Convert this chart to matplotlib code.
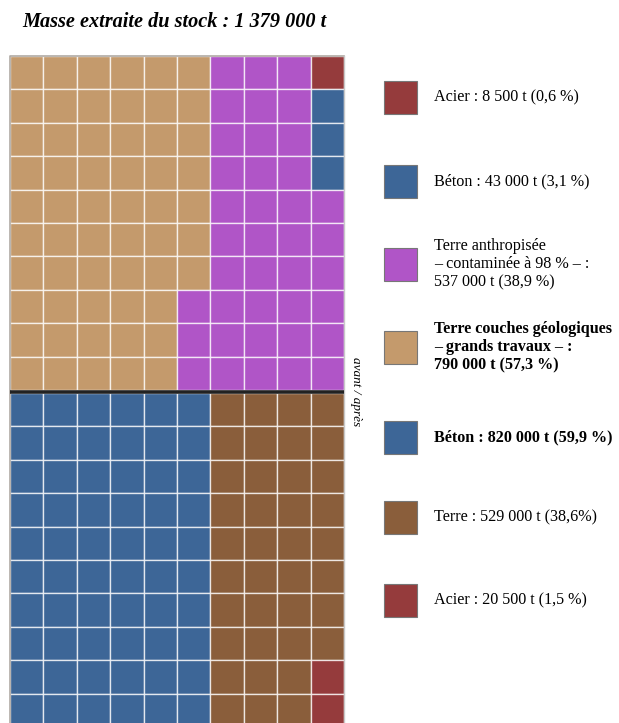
import matplotlib.pyplot as plt
from matplotlib.patches import Rectangle
import numpy as np

# categories for each waffle (counts are cells out of 100)
avant_labels = ['Terre couches géologiques\n– grands travaux – :\n790 000 t (57,3 %)',
                'Terre anthropisée\n– contaminée à 98 % – :\n537 000 t (38,9 %)',
                'Béton : 43 000 t (3,1 %)',
                'Acier : 8 500 t (0,6 %)']
avant_cells = [57, 39, 3, 1]
avant_colors = ['#C49A6C', '#B055C7', '#3D6697', '#953B3C']
avant_bold = [True, False, False, False]

apres_labels = ['Béton : 820 000 t (59,9 %)',
                'Terre : 529 000 t (38,6%)',
                'Acier : 20 500 t (1,5 %)']
apres_cells = [60, 38, 2]
apres_colors = ['#3D6697', '#8A5E3B', '#953B3C']
apres_bold = [True, False, False]

title = 'Masse extraite du stock : 1 379 000 t'

W, H = 619, 723
NCOL, NROW = 10, 10
CELL = 33.4
X0, Y0 = 10, 56
GAP = 3

serif = ['Liberation Serif', 'DejaVu Serif']


def waffle_grid(cells, flip_last=False):
    # column-major fill, top to bottom
    flat = np.repeat(np.arange(len(cells)), cells)
    grid = flat.reshape(NCOL, NROW)
    if flip_last:
        grid[-1] = grid[-1][::-1]
    return grid


def draw_waffle(ax, grid, colors, top):
    for c in range(NCOL):
        for r in range(NROW):
            x = X0 + c * CELL
            y = top + r * CELL
            ax.add_patch(Rectangle((x, y), CELL, CELL, facecolor=colors[grid[c, r]],
                                   edgecolor=(1, 1, 1, 0.75), linewidth=1.0))


fig = plt.figure(figsize=(W / 100, H / 100), dpi=100)
ax = fig.add_axes([0, 0, 1, 1])
ax.set_xlim(0, W)
ax.set_ylim(H, 0)
ax.axis('off')

top_avant = Y0
top_apres = Y0 + NROW * CELL + GAP
draw_waffle(ax, waffle_grid(avant_cells, flip_last=True), avant_colors, top_avant)
draw_waffle(ax, waffle_grid(apres_cells), apres_colors, top_apres)

# frame and divider
ax.plot([X0, X0, X0 + NCOL * CELL], [H, Y0, Y0], color='#b0aaa4', lw=1.2)
ax.plot([X0 + NCOL * CELL] * 2, [Y0, H], color='#c8c8c8', lw=1)
ax.plot([X0, X0 + NCOL * CELL], [Y0 + NROW * CELL + GAP / 2] * 2, color='#222222', lw=2.6,
        solid_capstyle='butt')

ax.text(356, Y0 + NROW * CELL + GAP / 2, 'avant / après', rotation=270, ha='center',
        va='center', fontsize=9.5, style='italic', family=serif)

ax.text(22, 22, title, fontsize=14.6, style='italic', weight='bold', family=serif,
        ha='left', va='center')

# legend
legend_y = [97, 181, 264, 347, 437, 517, 600]
entries = list(zip(avant_labels[::-1], avant_colors[::-1], avant_bold[::-1])) + \
    list(zip(apres_labels, apres_colors, apres_bold))
for (lab, col, bold), yc in zip(entries, legend_y):
    ax.add_patch(Rectangle((384, yc - 16.5), 33, 33, facecolor=col, edgecolor='#777777', lw=0.8))
    ax.text(434, yc, lab, fontsize=11.6, family=serif, weight='bold' if bold else 'normal',
            ha='left', va='center', linespacing=1.2)

fig.savefig('out.png', dpi=100)
